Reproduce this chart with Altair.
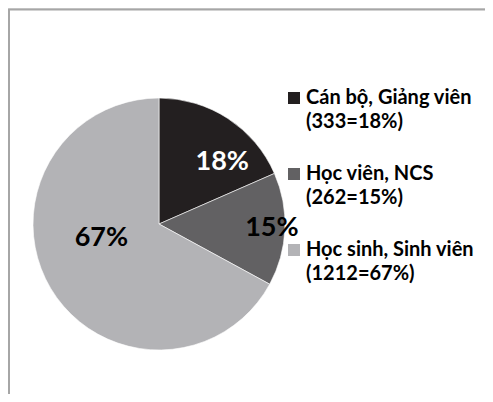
import altair as alt
import pandas as pd

categories = ["Cán bộ, Giảng viên", "Học viên, NCS", "Học sinh, Sinh viên"]
counts = [333, 262, 1212]
percents = [18, 15, 67]
colors = ["#231f20", "#626163", "#b3b3b6"]

df = pd.DataFrame({
    "cat": categories,
    "count": counts,
    "pct": [f"{p}%" for p in percents],
    "detail": [f"({n}={p}%)" for n, p in zip(counts, percents)],
    "order": list(range(len(categories))),
})

CX, CY, R = 151, 216, 126

color = alt.Color("cat:N", scale=alt.Scale(domain=categories, range=colors), legend=None)

base = alt.Chart(df)

pie = base.mark_arc(stroke="white", strokeWidth=0.6).encode(
    theta=alt.Theta("count:Q", stack=True),
    color=color,
    order=alt.Order("order:Q"),
    x=alt.value(CX),
    y=alt.value(CY),
    radius=alt.value(R),
)

label_specs = [
    (0, "white", 90, 14, 13),
    (1, "black", 112, 1, -1),
    (2, "black", 60, -6, -17),
]
texts = []
for idx, col, r, dx, dy in label_specs:
    t = base.mark_text(
        font="Lato", fontWeight="bold", fontSize=27, color=col,
        align="center", baseline="middle", dx=dx, dy=dy,
    ).encode(
        theta=alt.Theta("count:Q", stack=True),
        order=alt.Order("order:Q"),
        text="pct:N",
        x=alt.value(CX),
        y=alt.value(CY),
        radius=alt.value(r),
        opacity=alt.condition(f"datum.order == {idx}", alt.value(1), alt.value(0)),
    )
    texts.append(t)

# Legend (manual, to match two-line entries)
ly = alt.Y("cat:N", sort=categories, axis=None,
           scale=alt.Scale(type="point", domain=categories, range=[90, 242], padding=0))
leg_sym = base.mark_square(size=144, opacity=1).encode(
    x=alt.value(286), y=ly, color=color,
)
leg_t1 = base.mark_text(
    font="Lato", fontWeight="bold", fontSize=20, color="black",
    align="left", baseline="middle",
).encode(x=alt.value(298), y=ly, text="cat:N")
leg_t2 = base.mark_text(
    font="Lato", fontWeight="bold", fontSize=20, color="black",
    align="left", baseline="middle", dy=24,
).encode(x=alt.value(298), y=ly, text="detail:N")

frame = alt.Chart(pd.DataFrame({"a": [0]})).mark_rect(
    fill=None, stroke="#a6a6a6", strokeWidth=2
).encode(
    x=alt.value(1), x2=alt.value(520), y=alt.value(1.5), y2=alt.value(420)
)

chart = alt.layer(frame, pie, *texts, leg_sym, leg_t1, leg_t2).properties(
    width=477, height=386, autosize=alt.AutoSizeParams(type="none"), padding=0,
).configure_view(stroke=None).configure(background="white")

chart.save("out.html", embed_options={"renderer": "svg", "actions": False})
